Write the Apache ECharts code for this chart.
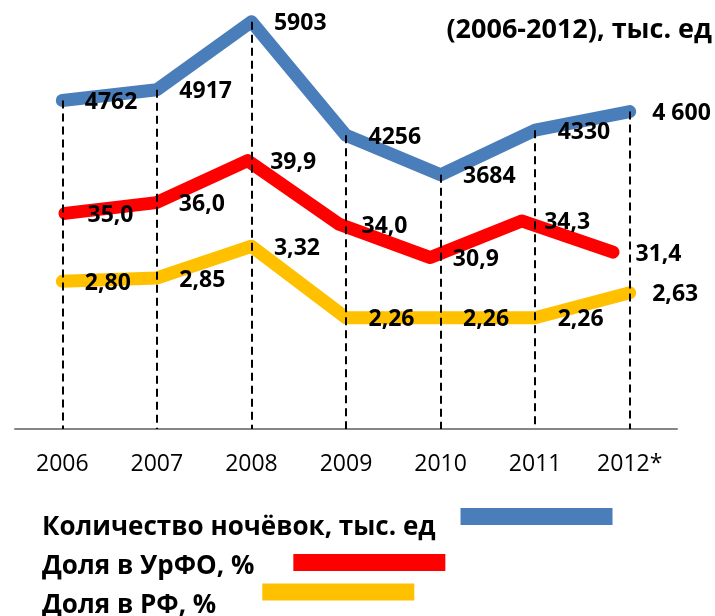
<!DOCTYPE html>
<html><head><meta charset="utf-8">
<script src="https://cdn.jsdelivr.net/npm/echarts@6.0.0/dist/echarts.min.js"></script>
<style>html,body{margin:0;padding:0;background:#fff}#c{width:715px;height:616px}</style>
</head><body><div id="c"></div>
<script>
const years = ['2006', '2007', '2008', '2009', '2010', '2011', '2012*'];
const nights = [4762, 4917, 5903, 4256, 3684, 4330, 4600];
const nightsLabels = ['4762', '4917', '5903', '4256', '3684', '4330', '4 600'];
const shareUrfo = [35.0, 36.0, 39.9, 34.0, 30.9, 34.3, 31.4];
const shareRf = [2.80, 2.85, 3.32, 2.26, 2.26, 2.26, 2.63];
const seriesNames = ['Количество ночёвок, тыс. ед', 'Доля в УрФО, %', 'Доля в РФ, %'];
const titleText = '(2006-2012), тыс. ед';

const FONT = '"Open Sans", "Noto Sans", sans-serif';
const C_BLUE = '#4A7EBB', C_RED = '#FF0000', C_YEL = '#FFC000';

function commaFmt(d) { return v => v.toFixed(d).replace('.', ','); }

function lineSeries(name, data, xi, yi, color, fmt) {
  return {
    name: name, type: 'line', xAxisIndex: xi, yAxisIndex: yi, data: data,
    z: 3, silent: true,
    symbol: 'circle', symbolSize: 1, showSymbol: true,
    itemStyle: { color: color },
    lineStyle: { color: color, width: 13, cap: 'round', join: 'round' },
    label: {
      show: true, position: 'right', distance: 22, offset: [0, 2],
      fontFamily: FONT, fontWeight: 'bold', fontSize: 23, color: '#000',
      formatter: p => fmt(p.value, p.dataIndex)
    }
  };
}

function legendItem(name, top, pad) {
  return {
    data: [name], left: 42, top: top, padding: 0, icon: 'rect',
    itemWidth: 152, itemHeight: 17, align: 'right', selectedMode: false,
    itemStyle: { borderWidth: 0 },
    formatter: n => '{t|' + n + '}',
    textStyle: {
      color: '#000',
      rich: { t: { fontFamily: FONT, fontWeight: 'bold', fontSize: 26, color: '#000', lineHeight: 30, padding: pad } }
    }
  };
}

const fmtR = commaFmt(1), fmtY = commaFmt(2);

const option = {
  animation: false,
  backgroundColor: '#fff',
  title: {
    text: titleText, right: 3, top: 17, padding: 0,
    textStyle: { fontFamily: FONT, fontWeight: 'bold', fontSize: 27, color: '#000' }
  },
  legend: [
    legendItem(seriesNames[0], 492, [23, 20, 0, 0]),
    legendItem(seriesNames[1], 545, [9, 34, 0, 0]),
    legendItem(seriesNames[2], 565, [28, 41, 0, 0])
  ],
  grid: [
    { left: 15, right: 38, top: 15, bottom: 187 },
    { left: 65, right: 102, top: 15, bottom: 187 }
  ],
  xAxis: [
    {
      gridIndex: 0, type: 'category', data: years, boundaryGap: true,
      axisLine: { lineStyle: { color: '#868686', width: 2 } },
      axisTick: { show: false },
      axisLabel: { interval: 0, margin: 24, fontFamily: FONT, fontSize: 23, color: '#000' }
    },
    { gridIndex: 1, type: 'category', data: years, boundaryGap: false, show: false }
  ],
  yAxis: [
    { gridIndex: 0, type: 'value', min: 0, max: 6000, show: false, splitLine: { show: false } },
    { gridIndex: 0, type: 'value', min: 0.61, max: 6.75, show: false, splitLine: { show: false } },
    { gridIndex: 1, type: 'value', min: 15, max: 53.4, show: false, splitLine: { show: false } }
  ],
  series: [
    {
      type: 'line', xAxisIndex: 0, yAxisIndex: 0, data: nights, z: 1, silent: true,
      symbol: 'none', lineStyle: { opacity: 0 },
      markLine: {
        silent: true, symbol: ['none', 'none'], label: { show: false },
        lineStyle: { type: [8, 5], color: '#000', width: 2 },
        data: nights.map((v, i) => [{ coord: [years[i], v] }, { coord: [years[i], 0] }])
      }
    },
    lineSeries(seriesNames[0], nights, 0, 0, C_BLUE, (v, i) => nightsLabels[i]),
    lineSeries(seriesNames[1], shareUrfo, 1, 2, C_RED, v => fmtR(v)),
    lineSeries(seriesNames[2], shareRf, 0, 1, C_YEL, v => fmtY(v))
  ]
};

const chart = echarts.init(document.getElementById('c'), null, { renderer: 'canvas' });
chart.setOption(option);
</script>
</body></html>
